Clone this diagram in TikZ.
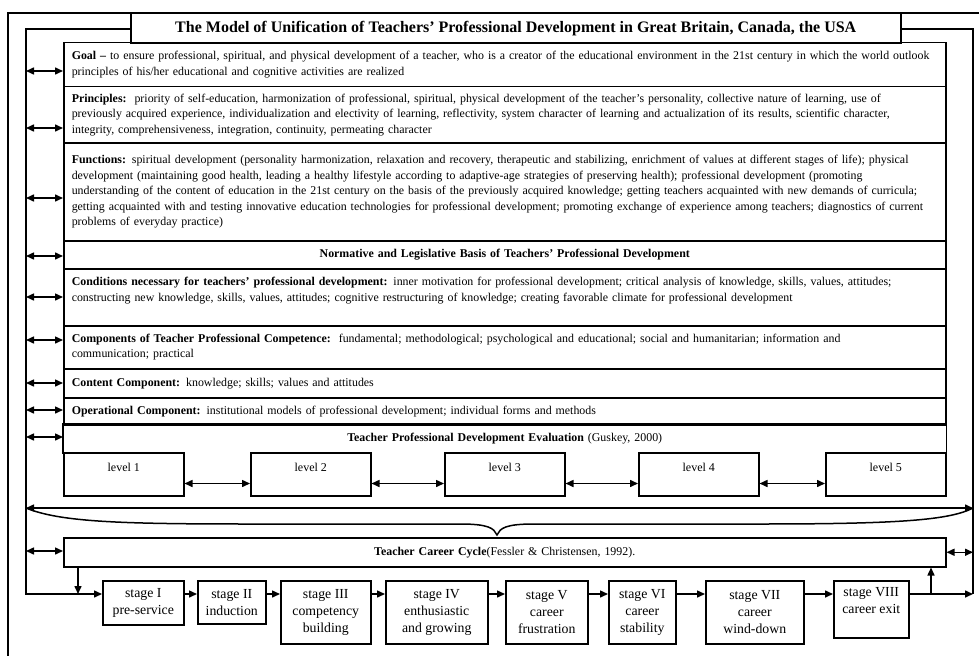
\documentclass[tikz,border=0pt]{standalone}
\usepackage{fontspec}
\setmainfont{Liberation Serif}
\usetikzlibrary{arrows.meta}
\tikzset{
    frameline/.style={line width=1.5pt},
    row/.style={draw, line width=1.5pt, anchor=north west, text width=866pt, inner xsep=8pt, inner ysep=0pt, align=left, font=\fontsize{11.9}{15.5}\selectfont},
    midrow/.style={row, align=center},
    levelbox/.style={draw, line width=1.5pt, anchor=north west, minimum width=120pt, minimum height=43pt, text depth=14pt, font=\fontsize{12}{15.5}\selectfont},
    stagebox/.style={draw, line width=1.5pt, anchor=north west, align=center, inner sep=0pt, font=\fontsize{13.8}{16.8}\selectfont},
    onearrow/.style={-{Triangle[length=8pt,width=7pt]}, line width=1.5pt},
    twoarrow/.style={{Triangle[length=8pt,width=7pt]}-{Triangle[length=8pt,width=7pt]}, line width=1.5pt}
}
\begin{document}
\begin{tikzpicture}[x=1pt,y=-1pt]
    \useasboundingbox (0,0) rectangle (979,658);
    % title and outer frame
    \node[draw, frameline, anchor=north west, minimum width=770pt, minimum height=30pt, font=\bfseries\fontsize{16}{18}\selectfont] (title) at (130,13) {The Model of Unification of Teachers’ Professional Development in Great Britain, Canada, the USA};
    \draw[frameline] (979,13) -- (8,13) -- (8,656);
    \coordinate (lefttop) at (26,29);
    \coordinate (righttop) at (973,29);

    % main rows
    \node[row, minimum height=44pt] (goal) at (63,42) {\textbf{Goal –} to ensure professional, spiritual, and physical development of a teacher, who is a creator of the educational environment in the 21st century in which the world outlook\\ principles of his/her educational and cognitive activities are realized};
    \node[row, minimum height=56pt] (princ) at (63,86) {\textbf{Principles:}\ \ priority of self-education, harmonization of professional, spiritual, physical development of the teacher’s personality, collective nature of learning, use of\\ previously acquired experience, individualization and electivity of learning, reflectivity, system character of learning and actualization of its results, scientific character,\\ integrity, comprehensiveness, integration, continuity, permeating character};
    \node[row, minimum height=98pt] (func) at (63,142) {\textbf{Functions:} spiritual development (personality harmonization, relaxation and recovery, therapeutic and stabilizing, enrichment of values at different stages of life); physical\\ development (maintaining good health, leading a healthy lifestyle according to adaptive-age strategies of preserving health); professional development (promoting\\ understanding of the content of education in the 21st century on the basis of the previously acquired knowledge; getting teachers acquainted with new demands of curricula;\\ getting acquainted with and testing innovative education technologies for professional development; promoting exchange of experience among teachers; diagnostics of current\\ problems of everyday practice)};
    \node[midrow, minimum height=28pt] (norm) at (63,240) {\textbf{Normative and Legislative Basis of Teachers’ Professional Development}};
    \node[row, minimum height=57pt] (cond) at (63,268) {\textbf{Conditions necessary for teachers’ professional development:} inner motivation for professional development; critical analysis of knowledge, skills, values, attitudes;\\ constructing new knowledge, skills, values, attitudes; cognitive restructuring of knowledge; creating favorable climate for professional development\\ ~};
    \node[row, minimum height=43pt] (comp) at (63,325) {\textbf{Components of Teacher Professional Competence:}\ \ fundamental; methodological; psychological and educational; social and humanitarian; information and\\ communication; practical};
    \node[row, minimum height=29pt] (cont) at (63,368) {\textbf{Content Component:} knowledge; skills; values and attitudes};
    \node[row, minimum height=27pt] (oper) at (63,397) {\textbf{Operational Component:} institutional models of professional development; individual forms and methods};
    \node[midrow, draw=none, minimum height=28pt] (eval) at (63,424) {\textbf{Teacher Professional Development Evaluation} (Guskey, 2000)};
    \draw[frameline] (eval.south west) -- (eval.north west) -- (eval.north east) -- (eval.south east);

    % levels
    \node[levelbox] (l1) at (63,452) {level 1};
    \node[levelbox] (l2) at (250,452) {level 2};
    \node[levelbox] (l3) at (444,452) {level 3};
    \node[levelbox] (l4) at (638,452) {level 4};
    \node[levelbox] (l5) at (825,452) {level 5};
    \foreach \a/\b in {l1/l2,l2/l3,l3/l4,l4/l5}
        \draw[twoarrow] ([yshift=13pt]\a.south east) -- ([yshift=13pt]\b.south west);

    % career cycle and stages
    \node[midrow, minimum height=29pt] (cycle) at (63,537) {\textbf{Teacher Career Cycle}(Fessler \& Christensen, 1992).};
    \node[stagebox, minimum width=81pt, minimum height=44pt] (s1) at (102,580) {stage I\\pre-service};
    \node[stagebox, minimum width=68pt, minimum height=43pt] (s2) at (197,580) {stage II\\induction};
    \node[stagebox, minimum width=90pt, minimum height=63pt] (s3) at (280,580) {stage III\\competency\\building};
    \node[stagebox, minimum width=102pt, minimum height=63pt] (s4) at (385,580) {stage IV\\enthusiastic\\and growing};
    \node[stagebox, minimum width=82pt, minimum height=63pt] (s5) at (505,580) {stage V\\career\\frustration};
    \node[stagebox, minimum width=67pt, minimum height=63pt] (s6) at (608,580) {stage VI\\career\\stability};
    \node[stagebox, minimum width=98pt, minimum height=63pt] (s7) at (705,580) {stage VII\\career\\wind-down};
    \node[stagebox, minimum width=75pt, minimum height=57pt] (s8) at (833,580) {stage VIII\\career exit\\ ~};
    \foreach \a/\b in {s1/s2,s2/s3,s3/s4,s4/s5,s5/s6,s6/s7,s7/s8}
        \draw[onearrow] ([yshift=-14pt]\a.north east) -- ([yshift=-14pt]\b.north west);

    % inner frame
    \draw[onearrow] (title.west |- lefttop) -- (lefttop) |- ([yshift=-14pt]s1.north west);
    \draw[frameline] (title.east |- righttop) -- (righttop) -- (973,594);
    \foreach \y/\n in {71/goal,128/princ,198/func,256/norm,297/cond,340/comp,383/cont,410/oper,437/eval,551/cycle}{
        \coordinate (at\n) at (26,\y);
        \draw[twoarrow] (at\n) -- (at\n -| \n.west);
    }
    \draw[twoarrow] (cycle.east) -- (cycle.east -| righttop);
    \coordinate (drop) at (78,594);
    \draw[onearrow] (drop |- cycle.south) -- (drop);
    \coordinate (rise) at (931,594);
    \draw[onearrow] (rise) -- (rise |- cycle.south);
    \coordinate (s8out) at ([yshift=-14pt]s8.north east);
    \draw[onearrow] (s8out) -- (s8out -| righttop);

    % brace
    \coordinate (braceL) at (26,508);
    \coordinate (braceR) at (973,508);
    \draw[twoarrow] (braceL) -- (braceR);
    \draw[frameline] (braceL) .. controls (60,522) and (120,524) .. (250,524) -- (460,524) .. controls (488,524) and (494,528) .. (497,535) .. controls (500,528) and (506,524) .. (534,524) -- (760,524) .. controls (900,524) and (950,520) .. (braceR);
\end{tikzpicture}
\end{document}
